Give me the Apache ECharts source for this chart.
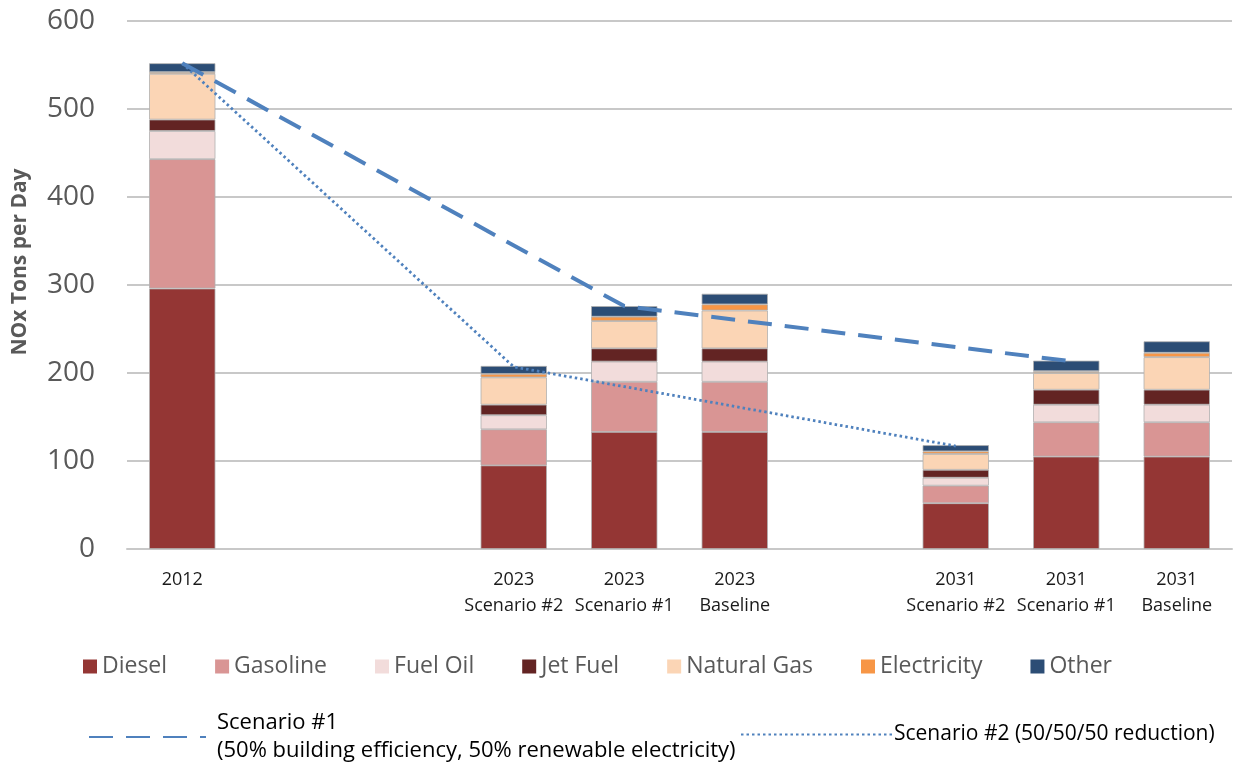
<!DOCTYPE html>
<html>
<head>
<meta charset="utf-8">
<script src="https://cdn.jsdelivr.net/npm/echarts@6/dist/echarts.min.js"></script>
<style>
  html, body { margin: 0; padding: 0; background: #fff; }
  #chart { width: 1243px; height: 762px; }
</style>
</head>
<body>
<div id="chart"></div>
<script>
  // categories (blank ones are the gaps between groups)
  const categories = ['2012', '', '', '2023\nScenario #2', '2023\nScenario #1', '2023\nBaseline', '',
    '2031\nScenario #2', '2031\nScenario #1', '2031\nBaseline']

  const diesel = [296, null, null, 95, 133, 133, null, 52, 105, 105]
  const gasoline = [147, null, null, 41, 57, 57, null, 20, 39, 39]
  const fuelOil = [32, null, null, 16, 23, 23, null, 9, 20, 20]
  const jetFuel = [13, null, null, 12, 15, 15, null, 9, 17, 17]
  const naturalGas = [52, null, null, 31, 31, 43, null, 18, 19, 37]
  const electricity = [2, null, null, 4, 5, 7, null, 3, 2, 5]
  const other = [10, null, null, 9, 12, 12, null, 7, 12, 13]

  const scenario1 = [552, null, null, null, 276, null, null, null, 214, null]
  const scenario2 = [552, null, null, 207, null, null, null, 117, null, null]

  const yTicks = {min: 0, max: 600, interval: 100}

  const font = "'Open Sans', sans-serif"

  const stackDefs = [
    {name: 'Diesel', data: diesel, color: '#943634'},
    {name: 'Gasoline', data: gasoline, color: '#D99594'},
    {name: 'Fuel Oil', data: fuelOil, color: '#F2DCDB'},
    {name: 'Jet Fuel', data: jetFuel, color: '#632423'},
    {name: 'Natural Gas', data: naturalGas, color: '#FBD5B5'},
    {name: 'Electricity', data: electricity, color: '#F79646'},
    {name: 'Other', data: other, color: '#2C4D75'}
  ]

  let series = stackDefs.map(d => ({
    name: d.name,
    type: 'bar',
    stack: 'total',
    barWidth: '60%',
    data: d.data,
    itemStyle: {color: d.color, borderColor: '#b0b0b0', borderWidth: 0.8},
    emphasis: {disabled: true}
  }))

  series.push({
    name: 'Scenario #1',
    type: 'line',
    data: scenario1,
    connectNulls: true,
    symbol: 'none',
    z: 5,
    lineStyle: {color: '#4F81BD', width: 4, type: [24, 13]},
    itemStyle: {color: '#4F81BD'}
  })
  series.push({
    name: 'Scenario #2',
    type: 'line',
    data: scenario2,
    connectNulls: true,
    symbol: 'none',
    z: 5,
    lineStyle: {color: '#4F81BD', width: 2.8, type: [2.5, 3]},
    itemStyle: {color: '#4F81BD'}
  })

  let chart = echarts.init(document.getElementById('chart'))
  chart.setOption({
    animation: false,
    textStyle: {fontFamily: font},
    grid: {left: 127, right: 11, top: 21, bottom: 213},
    legend: [
      {
        data: stackDefs.map(d => d.name),
        left: 78,
        top: 650,
        itemWidth: 14,
        itemHeight: 14,
        itemGap: 48,
        icon: 'rect',
        itemStyle: {borderWidth: 0},
        textStyle: {fontSize: 23, color: '#595959', fontFamily: font}
      },
      {
        data: ['Scenario #1'],
        left: 83,
        top: 704,
        itemWidth: 117,
        itemHeight: 14,
        itemStyle: {opacity: 0},
        formatter: () => 'Scenario #1\n(50% building efficiency, 50% renewable electricity)',
        textStyle: {fontSize: 22, color: '#000', lineHeight: 28, fontFamily: font, padding: [0, 0, 0, 6]}
      },
      {
        data: ['Scenario #2'],
        left: 735,
        top: 719,
        itemWidth: 152,
        itemHeight: 14,
        itemStyle: {opacity: 0},
        formatter: () => 'Scenario #2 (50/50/50 reduction)',
        textStyle: {fontSize: 21, color: '#000', fontFamily: font, padding: [0, 0, 0, -4]}
      }
    ],
    xAxis: {
      type: 'category',
      data: categories,
      axisTick: {show: false},
      axisLine: {lineStyle: {color: '#c8c8c8', width: 2}},
      axisLabel: {fontSize: 18, color: '#1a1a1a', lineHeight: 26, margin: 18, interval: 0}
    },
    yAxis: {
      type: 'value',
      min: yTicks.min,
      max: yTicks.max,
      interval: yTicks.interval,
      name: 'NOx Tons per Day',
      nameLocation: 'middle',
      nameGap: 96,
      nameTextStyle: {fontSize: 21, fontWeight: 'bold', color: '#595959', fontFamily: font, padding: [0, 0, 0, 46]},
      axisLine: {show: false},
      axisTick: {show: false},
      axisLabel: {fontSize: 28, color: '#595959', margin: 32, fontFamily: font},
      splitLine: {lineStyle: {color: '#c8c8c8', width: 2}}
    },
    series: series
  })
</script>
</body>
</html>
